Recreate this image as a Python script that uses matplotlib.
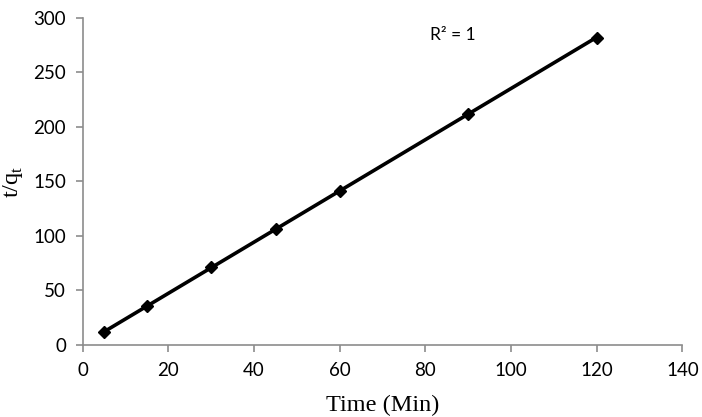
import numpy as np
import matplotlib.pyplot as plt

time_min = [5, 15, 30, 45, 60, 90, 120]
t_over_qt = [12, 35.5, 71, 106, 141.5, 212, 282]
x_ticks = [0, 20, 40, 60, 80, 100, 120, 140]
y_ticks = [0, 50, 100, 150, 200, 250, 300]

# linear trendline through the points
slope, intercept = np.polyfit(time_min, t_over_qt, 1)
fit_x = np.array([time_min[0], time_min[-1]])
fit_y = slope * fit_x + intercept

fig = plt.figure(figsize=(7.02, 4.17), dpi=100)
ax = fig.add_axes([0.118, 0.173, 0.854, 0.784])

ax.plot(fit_x, fit_y, color='black', linewidth=2.6, zorder=2)
ax.plot(time_min, t_over_qt, linestyle='none', marker='D', markersize=6.5,
        color='black', zorder=3)

ax.set_xlim(0, 140)
ax.set_ylim(0, 300)
ax.set_xticks(x_ticks)
ax.set_yticks(y_ticks)

for side in ['top', 'right']:
    ax.spines[side].set_visible(False)
for side in ['left', 'bottom']:
    ax.spines[side].set_color('#8c8c8c')
    ax.spines[side].set_linewidth(1.2)
ax.tick_params(direction='out', length=5, width=1.2, color='#8c8c8c',
               labelsize=13.5, pad=7)
for lab in ax.get_xticklabels() + ax.get_yticklabels():
    lab.set_family('Lato')

ax.set_xlabel('Time (Min)', family='Liberation Serif', fontsize=17.5, labelpad=12)
ax.set_ylabel('t/q$_\\mathregular{t}$', family='Liberation Serif', fontsize=17.5,
              labelpad=6)

ax.text(81, 284, 'R² = 1', family='Lato', fontsize=12.5, va='center')

fig.savefig('out.png', dpi=100)
